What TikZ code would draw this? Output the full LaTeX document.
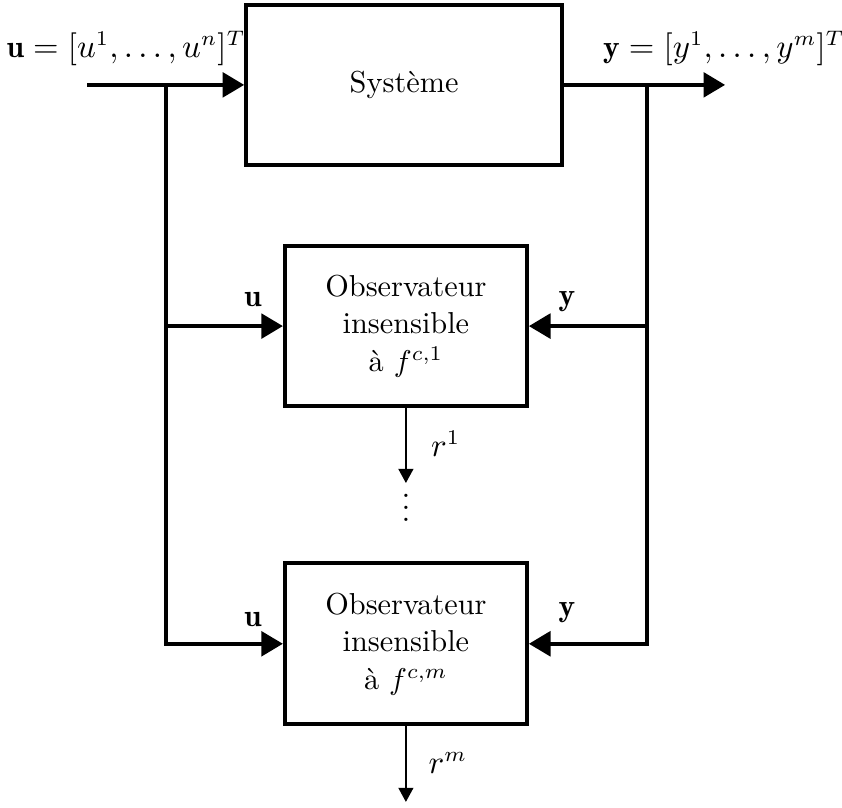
\documentclass[tikz,border=0pt]{standalone}
\usepackage{fontspec}
\usepackage{amsmath}
\usetikzlibrary{arrows.meta,positioning}

\begin{document}
\begin{tikzpicture}[
    x=1pt,y=1pt,
    line/.style={draw=black, line width=1.3pt},
    thinline/.style={draw=black, line width=0.45pt},
    bigtip/.style={-{Triangle[length=7.2pt,width=8.2pt]}},
    smalltip/.style={-{Triangle[length=4.7pt,width=5pt]}},
    block/.style={
        draw=black,
        line width=1.3pt,
        inner sep=0pt,
        align=center,
        font=\fontsize{10.1pt}{12.5pt}\selectfont
    },
    label/.style={inner sep=0pt, font=\fontsize{10.5pt}{12.5pt}\selectfont}
]

% ===== geometry =====
\def\xL{55.3}  \def\xR{215.7}
\def\yTop{-28.3}

\useasboundingbox (0,0) rectangle (280.67,-269.33);

% system and observers
\node[block, minimum width=105.3pt, minimum height=53.3pt] (sys) at (134.7,-28.3) {Système};
\node[block, minimum width=80.7pt, minimum height=53.3pt] (obsA) at (135.3,-108.7)
  {Observateur\\ insensible\\ à $f^{c,1}$};
\node[block, minimum width=80.7pt, minimum height=53.6pt] (obsB) at (135.3,-214.6)
  {Observateur\\ insensible\\ à $f^{c,m}$};

% input and output
\coordinate (in) at (29,\yTop);
\coordinate (out) at (241.7,\yTop);
\coordinate (jL) at (\xL,\yTop);
\coordinate (jR) at (\xR,\yTop);

\draw[line,bigtip] (in) -- (sys.west);
\draw[line,bigtip] (sys.east) -- (out);
\node[label] (uvec) at (42,-16.3) {$\mathbf{u}=[u^1,\ldots,u^n]^T$};
\node[label] (yvec) at (241.3,-16.3) {$\mathbf{y}=[y^1,\ldots,y^m]^T$};

% branches to the observers
\draw[line] (jL) -- (jL |- obsA.west);
\draw[line,bigtip] (jL |- obsA.west) -- (obsA.west);
\draw[line,bigtip] (jL |- obsA.west) |- (obsB.west);

\draw[line] (jR) -- (jR |- obsA.east);
\draw[line,bigtip] (jR |- obsA.east) -- (obsA.east);
\draw[line,bigtip] (jR |- obsA.east) |- (obsB.east);

\node[label, anchor=base] (uA) at (84.3,-102.2) {$\mathbf{u}$};
\node[label, anchor=base] (yA) at (189,-101.7) {$\mathbf{y}$};
\node[label, anchor=base] (uB) at (84.3,-209) {$\mathbf{u}$};
\node[label, anchor=base] (yB) at (189,-205.6) {$\mathbf{y}$};

% residuals
\coordinate (rA) at (135.3,-161);
\coordinate (rB) at (135.3,-267.3);
\draw[thinline,smalltip] (obsA.south) -- (rA);
\draw[thinline,smalltip] (obsB.south) -- (rB);
\node[label, anchor=base west] (rAlab) at (143.5,-152.2) {$r^1$};
\node[label, anchor=base west] (rBlab) at (142.7,-257.7) {$r^m$};

\node[label, anchor=base] (dots) at (135.3,-173.9) {$\vdots$};
\end{tikzpicture}
\end{document}
